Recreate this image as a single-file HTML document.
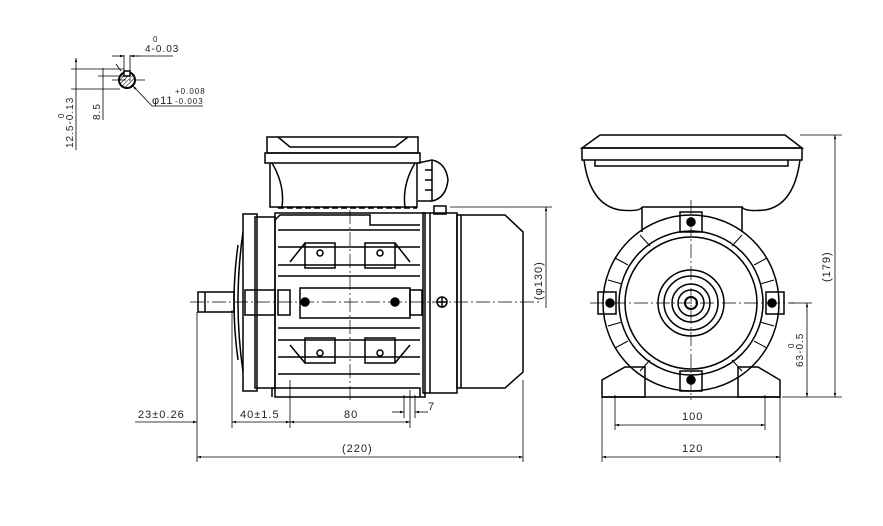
<!DOCTYPE html>
<html><head><meta charset="utf-8"><style>
html,body{margin:0;padding:0;background:#fff}
svg{display:block}
text{font-family:"Liberation Sans",sans-serif;font-size:11px;fill:#222;letter-spacing:1px}
</style></head><body>
<svg width="883" height="526" viewBox="0 0 883 526" xmlns="http://www.w3.org/2000/svg">
<defs>
<marker id="a" viewBox="0 0 10 10" refX="10" refY="5" markerWidth="7" markerHeight="5" orient="auto-start-reverse"><path d="M0,2 L10,5 L0,8z" fill="#000"/></marker>
<pattern id="h" width="3" height="3" patternUnits="userSpaceOnUse" patternTransform="rotate(45)"><line x1="0" y1="0" x2="0" y2="3" stroke="#000" stroke-width="1"/></pattern>
</defs>
<g fill="none" stroke="#000" stroke-width="1.5">
<!-- ===== detail top-left ===== -->
<circle cx="127" cy="80" r="8" fill="url(#h)" stroke-width="2"/>
<rect x="124" y="71" width="6" height="5" fill="#fff"/>
<g stroke-width="0.8">
<line x1="71" y1="69" x2="124" y2="69"/><line x1="71" y1="89" x2="120" y2="89"/>
<line x1="98" y1="76" x2="124" y2="76"/>
<line x1="76" y1="58" x2="76" y2="150" marker-start="url(#a)"/>
<line x1="103" y1="68" x2="103" y2="120"/>
<line x1="124" y1="55" x2="124" y2="72"/><line x1="130" y1="55" x2="130" y2="72"/>
<line x1="112" y1="56" x2="124" y2="56" marker-end="url(#a)"/><line x1="140" y1="56" x2="130" y2="56" marker-end="url(#a)"/>
<line x1="130" y1="56" x2="173" y2="56"/>
<line x1="152" y1="106" x2="133" y2="86" marker-end="url(#a)"/><line x1="152" y1="106" x2="203" y2="106"/>
<line x1="116" y1="64" x2="121" y2="71"/>
</g>
<!-- ===== side view ===== -->
<path d="M267,137 L418,137 L418,153 L267,153 Z"/>
<path d="M278,137 L290,147 L395,147 L408,137"/>
<rect x="265" y="153" width="155" height="10"/>
<path d="M270,163 L270,207 L417,207 L417,163"/>
<path d="M272,163 Q285,185 282,207 M415,163 Q402,185 405,207"/>
<line x1="278" y1="208" x2="417" y2="208" stroke-dasharray="6,3"/>
<path d="M418,163 L432,160 Q446,163 448,180 Q446,198 432,201 L418,201"/>
<path d="M432,160 L432,201 M425,170 L432,170 M425,180 L432,180 M425,190 L432,190"/>
<rect x="275" y="213" width="150" height="184"/>
<path d="M275,220 L280,215 L370,215 L370,225 L420,225"/>
<path d="M278,230 L420,230 M278,247 L420,247 M278,265 L420,265 M278,276 L420,276 M278,328 L420,328 M278,340 L420,340 M278,357 L420,357 M278,374 L420,374"/>
<rect x="300" y="288" width="110" height="30"/>
<rect x="305" y="243" width="30" height="25"/><rect x="365" y="243" width="30" height="25"/>
<rect x="305" y="338" width="30" height="25"/><rect x="365" y="338" width="30" height="25"/>
<path d="M290,262 L305,243 M410,262 L395,243 M290,345 L305,363 M410,345 L395,363"/>
<circle cx="320" cy="253" r="3"/><circle cx="380" cy="253" r="3"/>
<circle cx="320" cy="353" r="3"/><circle cx="380" cy="353" r="3"/>
<circle cx="305" cy="302" r="4" fill="#000"/><circle cx="395" cy="302" r="4" fill="#000"/>
<rect x="278" y="290" width="12" height="25"/><rect x="410" y="290" width="12" height="25"/>
<path d="M272,397 L272,388 L420,388 L420,397"/>
<rect x="255" y="217" width="20" height="171"/>
<rect x="243" y="214" width="14" height="177"/>
<path d="M243,232 Q233,302 243,372"/>
<path d="M238,245 Q230,302 238,360"/>
<rect x="245" y="290" width="30" height="25"/>
<rect x="198" y="292" width="36" height="20"/>
<line x1="205" y1="292" x2="205" y2="312"/>
<rect x="423" y="213" width="34" height="180"/>
<line x1="430" y1="213" x2="430" y2="393"/>
<rect x="434" y="206" width="12" height="8"/>
<circle cx="442" cy="302" r="5"/>
<path d="M442,297 L442,307 M437,302 L447,302"/>
<path d="M457,215 L505,215 L523,232 L523,372 L505,388 L457,388 Z"/>
<line x1="461" y1="215" x2="461" y2="388"/>
<!-- ===== front view ===== -->
<path d="M600,135 L785,135 L802,148 L582,148 Z"/>
<rect x="582" y="148" width="220" height="12"/>
<path d="M595,160 L595,166 L788,166 L788,160"/>
<path d="M584,160 Q590,205 620,210 Q640,212 642,207 M800,160 Q794,205 765,210 Q745,212 742,207"/>
<path d="M642,207 L742,207 L742,232 M642,207 L642,232"/>
<circle cx="691" cy="303" r="88"/>
<circle cx="691" cy="303" r="72"/>
<circle cx="691" cy="303" r="66"/>
<g stroke-width="1">
<path d="M615,258 L628,265 M608,280 L622,284 M608,326 L622,322 M615,348 L628,341 M767,258 L754,265 M774,280 L760,284 M774,326 L760,322 M767,348 L754,341 M640,235 L650,246 M742,235 L732,246 M640,371 L650,360 M742,371 L732,360"/>
</g>
<circle cx="691" cy="303" r="33"/>
<circle cx="691" cy="303" r="27"/>
<circle cx="691" cy="303" r="19"/>
<circle cx="691" cy="303" r="13"/>
<circle cx="691" cy="303" r="6" stroke-width="2"/>
<rect x="680" y="212" width="22" height="20"/><rect x="680" y="371" width="22" height="20"/>
<rect x="598" y="292" width="18" height="22"/><rect x="766" y="292" width="18" height="22"/>
<circle cx="691" cy="222" r="4" fill="#000"/><circle cx="691" cy="380" r="4" fill="#000"/>
<circle cx="610" cy="303" r="4" fill="#000"/><circle cx="772" cy="303" r="4" fill="#000"/>
<path d="M602,397 L602,380 L625,367 L645,367 L645,397 Z M780,397 L780,380 L758,367 L738,367 L738,397 Z"/>
<line x1="602" y1="397" x2="780" y2="397"/>
</g>
<g stroke="#000" stroke-width="0.7" fill="none" stroke-dasharray="14,3,2,3">
<line x1="190" y1="302" x2="540" y2="302"/>
<line x1="350" y1="210" x2="350" y2="400"/>
<line x1="590" y1="303" x2="795" y2="303"/>
<line x1="691" y1="200" x2="691" y2="400"/>
<line x1="112" y1="80" x2="145" y2="80"/>
</g>
<g stroke="#000" stroke-width="0.8" fill="none">
<line x1="197" y1="312" x2="197" y2="462"/>
<line x1="232" y1="310" x2="232" y2="428"/>
<line x1="290" y1="380" x2="290" y2="428"/>
<line x1="410" y1="390" x2="410" y2="428"/>
<line x1="523" y1="380" x2="523" y2="462"/>
<line x1="135" y1="422" x2="197" y2="422" marker-end="url(#a)"/>
<line x1="232" y1="422" x2="290" y2="422" marker-start="url(#a)" marker-end="url(#a)"/>
<line x1="290" y1="422" x2="410" y2="422" marker-start="url(#a)" marker-end="url(#a)"/>
<line x1="404" y1="395" x2="404" y2="418"/><line x1="415" y1="395" x2="415" y2="418"/>
<line x1="392" y1="412" x2="404" y2="412" marker-end="url(#a)"/><line x1="428" y1="412" x2="415" y2="412" marker-end="url(#a)"/>
<line x1="197" y1="457" x2="523" y2="457" marker-start="url(#a)" marker-end="url(#a)"/>
<line x1="450" y1="207" x2="552" y2="207"/>
<line x1="546" y1="207" x2="546" y2="308" marker-start="url(#a)"/>
<line x1="602" y1="397" x2="602" y2="462"/><line x1="780" y1="397" x2="780" y2="462"/>
<line x1="615" y1="395" x2="615" y2="430"/><line x1="765" y1="395" x2="765" y2="430"/>
<line x1="615" y1="425" x2="765" y2="425" marker-start="url(#a)" marker-end="url(#a)"/>
<line x1="602" y1="457" x2="780" y2="457" marker-start="url(#a)" marker-end="url(#a)"/>
<line x1="800" y1="135" x2="842" y2="135"/><line x1="782" y1="397" x2="842" y2="397"/>
<line x1="835" y1="135" x2="835" y2="397" marker-start="url(#a)" marker-end="url(#a)"/>
<line x1="790" y1="303" x2="812" y2="303"/>
<line x1="807" y1="303" x2="807" y2="397" marker-start="url(#a)" marker-end="url(#a)"/>
</g>
<text x="138" y="418">23±0.26</text>
<text x="240" y="418">40±1.5</text>
<text x="344" y="418">80</text>
<text x="428" y="410">7</text>
<text x="342" y="452">(220)</text>
<text x="682" y="420">100</text>
<text x="682" y="452">120</text>
<text transform="translate(542,300) rotate(-90)">(φ130)</text>
<text transform="translate(830,282) rotate(-90)">(179)</text>
<text transform="translate(803,367) rotate(-90)" style="font-size:10px">63-0.5</text>
<text transform="translate(794,348) rotate(-90)" style="font-size:8px">0</text>
<text x="145" y="52" style="font-size:10px">4-0.03</text>
<text x="153" y="42" style="font-size:8px">0</text>
<text x="152" y="104" style="font-size:11px">φ11</text>
<text x="175" y="104" style="font-size:8px">-0.003</text>
<text x="175" y="94" style="font-size:8px">+0.008</text>
<text transform="translate(73,148) rotate(-90)" style="font-size:10px">12.5-0.13</text>
<text transform="translate(64,118) rotate(-90)" style="font-size:8px">0</text>
<text transform="translate(100,120) rotate(-90)" style="font-size:10px">8.5</text>
</svg>
</body></html>
